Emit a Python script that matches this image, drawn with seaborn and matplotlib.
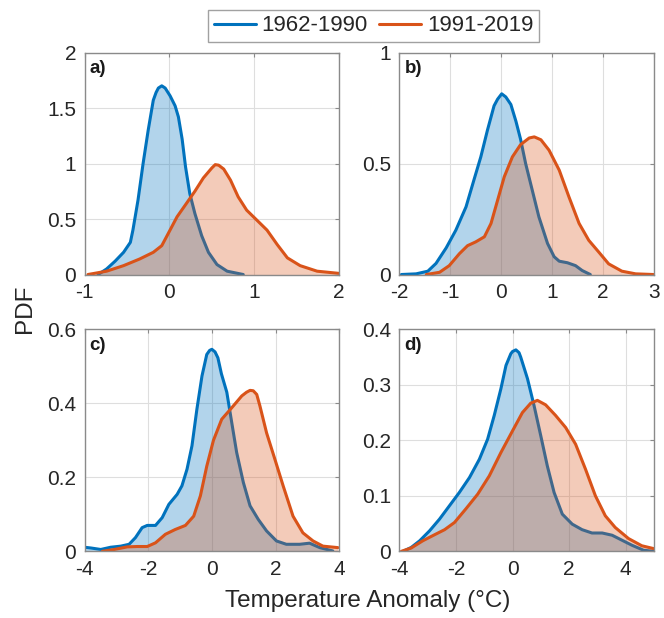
import matplotlib
matplotlib.use("Agg")
import numpy as np
import pandas as pd
import seaborn as sns
import matplotlib.pyplot as plt
from matplotlib.ticker import FuncFormatter

# periods
periods = ["1962-1990", "1991-2019"]

# panel a) values
a_x_early = [-0.84, -0.74, -0.64, -0.54, -0.46, -0.43, -0.37, -0.31, -0.25, -0.19, -0.157, -0.13, -0.09,
             -0.05, 0.008, 0.067, 0.106, 0.15, 0.19, 0.24, 0.30, 0.38, 0.46, 0.56, 0.68, 0.87]
a_y_early = [0.0, 0.05, 0.12, 0.20, 0.29, 0.40, 0.67, 1.00, 1.30, 1.57, 1.64, 1.68, 1.70,
             1.68, 1.61, 1.52, 1.42, 1.22, 0.97, 0.73, 0.55, 0.35, 0.20, 0.09, 0.03, 0.0]
a_x_late = [-0.96, -0.74, -0.54, -0.35, -0.19, -0.09, -0.01, 0.09, 0.20, 0.30, 0.40, 0.50, 0.54,
            0.58, 0.64, 0.72, 0.81, 0.91, 1.03, 1.15, 1.27, 1.39, 1.54, 1.74, 2.0]
a_y_late = [0.0, 0.03, 0.08, 0.14, 0.20, 0.26, 0.375, 0.52, 0.64, 0.75, 0.87, 0.96, 0.99,
            0.985, 0.95, 0.85, 0.70, 0.58, 0.49, 0.40, 0.27, 0.15, 0.08, 0.03, 0.01]

# panel b)
b_x_early = [-1.96, -1.67, -1.44, -1.28, -1.08, -0.89, -0.69, -0.53, -0.40, -0.27, -0.14, -0.07, 0.01,
             0.09, 0.19, 0.29, 0.38, 0.48, 0.61, 0.74, 0.91, 1.04, 1.14, 1.30, 1.46, 1.59, 1.75]
b_y_early = [0.0, 0.003, 0.015, 0.05, 0.12, 0.20, 0.305, 0.43, 0.53, 0.65, 0.76, 0.79, 0.814,
             0.80, 0.766, 0.69, 0.61, 0.50, 0.38, 0.26, 0.14, 0.08, 0.06, 0.053, 0.04, 0.018, 0.0]
b_x_late = [-1.47, -1.21, -1.02, -0.82, -0.66, -0.50, -0.33, -0.20, -0.07, 0.06, 0.22, 0.38, 0.55,
            0.65, 0.78, 0.94, 1.14, 1.33, 1.53, 1.72, 1.92, 2.11, 2.37, 2.64, 2.99]
b_y_late = [0.0, 0.01, 0.04, 0.094, 0.13, 0.147, 0.17, 0.23, 0.335, 0.44, 0.53, 0.585, 0.615,
            0.62, 0.607, 0.56, 0.47, 0.35, 0.23, 0.154, 0.10, 0.048, 0.015, 0.003, 0.0]

# panel c)
c_x_early = [-4.0, -3.8, -3.49, -3.18, -2.86, -2.60, -2.40, -2.19, -2.03, -1.77, -1.56, -1.35, -1.09,
             -0.94, -0.78, -0.625, -0.47, -0.31, -0.16, -0.07, 0.0, 0.10, 0.19, 0.30, 0.47, 0.625, 0.78,
             0.99, 1.20, 1.46, 1.72, 2.03, 2.34, 2.76, 3.07, 3.39, 3.80]
c_y_early = [0.011, 0.009, 0.005, 0.011, 0.014, 0.019, 0.037, 0.064, 0.070, 0.070, 0.091, 0.127, 0.154,
             0.177, 0.222, 0.285, 0.384, 0.474, 0.532, 0.543, 0.546, 0.539, 0.523, 0.48, 0.43, 0.348, 0.267,
             0.186, 0.123, 0.086, 0.055, 0.028, 0.019, 0.019, 0.022, 0.010, 0.001]
c_x_late = [-3.44, -3.07, -2.66, -2.34, -2.03, -1.77, -1.46, -1.15, -0.83, -0.57, -0.36, -0.16, 0.05,
            0.31, 0.625, 0.94, 1.09, 1.20, 1.30, 1.41, 1.51, 1.72, 1.98, 2.24, 2.55, 2.86, 3.18, 3.49, 3.96]
c_y_late = [0.0, 0.005, 0.012, 0.013, 0.013, 0.023, 0.046, 0.059, 0.070, 0.095, 0.15, 0.23, 0.30,
            0.357, 0.388, 0.42, 0.43, 0.435, 0.434, 0.424, 0.393, 0.32, 0.249, 0.177, 0.095, 0.05, 0.028,
            0.014, 0.01]

# panel d)
d_x_early = [-3.87, -3.58, -3.28, -2.93, -2.58, -2.23, -1.88, -1.52, -1.17, -0.88, -0.645, -0.41, -0.23,
             -0.06, 0.0, 0.12, 0.23, 0.29, 0.53, 0.76, 1.0, 1.23, 1.47, 1.76, 2.11, 2.46, 2.81, 3.17, 3.52,
             3.87, 4.22, 4.63, 4.98]
d_y_early = [0.0, 0.007, 0.019, 0.037, 0.058, 0.082, 0.106, 0.133, 0.166, 0.202, 0.245, 0.293, 0.335,
             0.356, 0.36, 0.363, 0.358, 0.35, 0.311, 0.263, 0.208, 0.154, 0.106, 0.067, 0.049, 0.039, 0.033,
             0.033, 0.029, 0.020, 0.011, 0.002, 0.0]
d_x_late = [-3.93, -3.58, -3.17, -2.75, -2.40, -2.05, -1.64, -1.23, -0.82, -0.41, 0.0, 0.35, 0.645,
            0.88, 1.17, 1.52, 1.88, 2.23, 2.58, 2.93, 3.28, 3.63, 4.10, 4.57, 4.98]
d_y_late = [0.0, 0.006, 0.019, 0.030, 0.039, 0.052, 0.077, 0.103, 0.136, 0.178, 0.217, 0.25, 0.267,
            0.272, 0.264, 0.245, 0.223, 0.193, 0.148, 0.10, 0.064, 0.043, 0.023, 0.01, 0.005]

panel_labels = ["a)", "b)", "c)", "d)"]
xlims = [(-1, 2), (-2, 3), (-4, 4), (-4, 5)]
ylims = [(0, 2), (0, 1), (0, 0.6), (0, 0.4)]
xticks = [[-1, 0, 1, 2], [-2, -1, 0, 1, 2, 3], [-4, -2, 0, 2, 4], [-4, -2, 0, 2, 4]]
yticks = [[0, 0.5, 1, 1.5, 2], [0, 0.5, 1], [0, 0.2, 0.4, 0.6], [0, 0.1, 0.2, 0.3, 0.4]]

curves = [
    [(a_x_early, a_y_early), (a_x_late, a_y_late)],
    [(b_x_early, b_y_early), (b_x_late, b_y_late)],
    [(c_x_early, c_y_early), (c_x_late, c_y_late)],
    [(d_x_early, d_y_early), (d_x_late, d_y_late)],
]

colors = ["#0072BD", "#D95319"]

sns.set_style("white")
plt.rcParams['font.family'] = ['Liberation Sans', 'DejaVu Sans']
plt.rcParams['axes.unicode_minus'] = False

fig = plt.figure(figsize=(6.64, 6.18), dpi=100)
positions = [
    [0.1273, 0.5558, 0.3835, 0.3592],
    [0.6014, 0.5558, 0.3835, 0.3592],
    [0.1273, 0.1079, 0.3835, 0.3592],
    [0.6014, 0.1079, 0.3835, 0.3592],
]

handles = []
for i, pos in enumerate(positions):
    ax = fig.add_axes(pos)
    for j, (xs, ys) in enumerate(curves[i]):
        df = pd.DataFrame({"x": xs, "y": ys})
        ax.fill_between(df["x"], 0, df["y"], color=colors[j], alpha=0.3, lw=0, zorder=2 + 2 * j)
        sns.lineplot(data=df, x="x", y="y", ax=ax, color=colors[j], lw=2.2, zorder=3 + 2 * j,
                     legend=False)
    ax.set_xlim(xlims[i])
    ax.set_ylim(ylims[i])
    ax.set_xticks(xticks[i])
    ax.set_yticks(yticks[i])
    ax.xaxis.set_major_formatter(FuncFormatter(lambda v, p: "%g" % v))
    ax.yaxis.set_major_formatter(FuncFormatter(lambda v, p: "%g" % v))
    ax.set_xlabel("")
    ax.set_ylabel("")
    ax.grid(True, color="#DEDEDE", lw=0.8, zorder=0)
    ax.set_axisbelow(True)
    for s in ax.spines.values():
        s.set_color("#8A8A8A")
        s.set_linewidth(1.0)
        s.set_zorder(10)
    ax.tick_params(direction="in", length=3, width=0.8, color="#8A8A8A",
                   labelsize=15, labelcolor="#262626", pad=6, top=True, right=True)
    ax.text(0.02, 0.965, panel_labels[i], transform=ax.transAxes, ha="left", va="top",
            fontsize=13.5, fontweight="bold", color="#1A1A1A", zorder=12)
    if i == 0:
        handles = ax.get_lines()[:2]

fig.legend(handles, periods, loc="center", bbox_to_anchor=(0.5625, 0.958), ncol=2,
           fontsize=16, frameon=True, fancybox=False, edgecolor="#8A8A8A",
           handlelength=1.9, handletextpad=0.25, columnspacing=0.5, borderpad=0.25,
           borderaxespad=0)

fig.text(0.038, 0.50, "PDF", rotation=90, ha="center", va="center", fontsize=17.5, color="#262626")
fig.text(0.554, 0.027, "Temperature Anomaly (°C)", ha="center", va="center", fontsize=17.5,
         color="#262626")

plt.savefig("out.png", dpi=100)
